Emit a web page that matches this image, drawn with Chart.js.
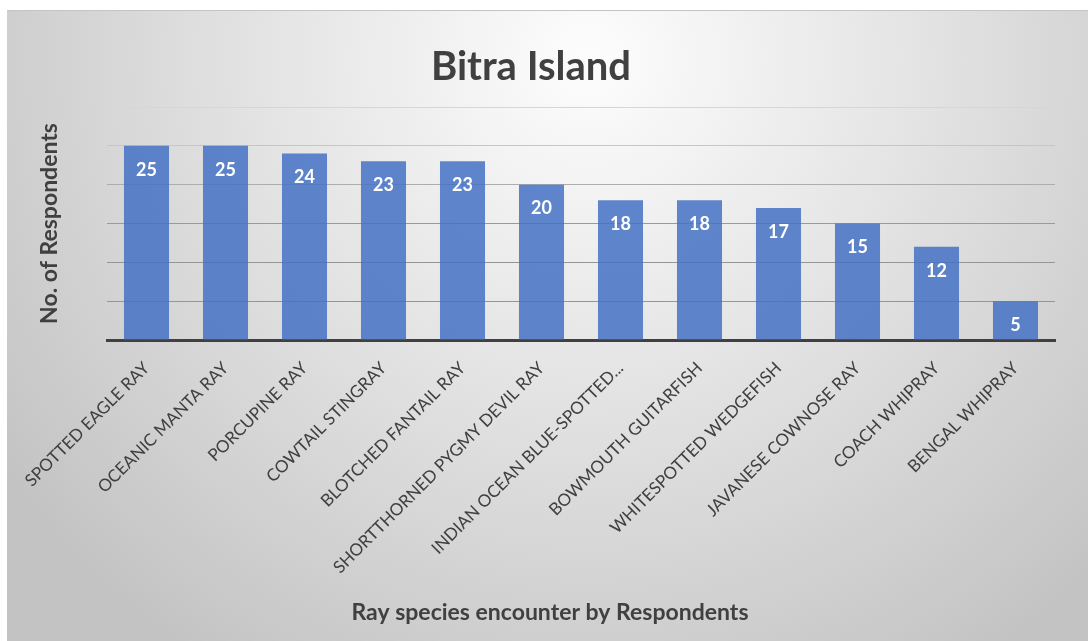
<!DOCTYPE html>
<html>
<head>
<meta charset="utf-8">
<title>Bitra Island</title>
<script src="https://cdn.jsdelivr.net/npm/chart.js@4/dist/chart.umd.min.js"></script>
<style>
  html, body { margin: 0; padding: 0; background: #fff; }
  #wrap { width: 1088px; height: 641px; }
</style>
</head>
<body>
<div id="wrap"><canvas id="chart"></canvas></div>
<script>
const species = [
  'SPOTTED EAGLE RAY',
  'OCEANIC MANTA RAY',
  'PORCUPINE RAY',
  'COWTAIL STINGRAY',
  'BLOTCHED FANTAIL RAY',
  'SHORTTHORNED PYGMY DEVIL RAY',
  'INDIAN OCEAN BLUE-SPOTTED...',
  'BOWMOUTH GUITARFISH',
  'WHITESPOTTED WEDGEFISH',
  'JAVANESE COWNOSE RAY',
  'COACH WHIPRAY',
  'BENGAL WHIPRAY'
];
const respondents = [25, 25, 24, 23, 23, 20, 18, 18, 17, 15, 12, 5];
const xCaption = 'Ray species encounter by Respondents';

const FONT = "Lato, 'Open Sans', sans-serif";

// grey panel with a soft light spot behind the title
const panelBg = {
  id: 'panelBg',
  beforeDraw(chart) {
    const { ctx, width, height } = chart;
    ctx.save();
    ctx.fillStyle = '#ffffff';
    ctx.fillRect(0, 0, width, height);
    const g = ctx.createRadialGradient(590, 60, 0, 590, 60, 720);
    g.addColorStop(0, '#fdfdfd');
    g.addColorStop(0.45, '#e4e4e4');
    g.addColorStop(1, '#c3c3c3');
    ctx.fillStyle = g;
    ctx.fillRect(7, 10, width - 7, height - 10);
    ctx.fillStyle = '#c4c4c4';
    ctx.fillRect(7, 10, width - 7, 1);
    ctx.restore();
  }
};

// white value labels inside the top of each bar, plus the x caption
const barValues = {
  id: 'barValues',
  afterDatasetsDraw(chart) {
    const { ctx } = chart;
    const meta = chart.getDatasetMeta(0);
    ctx.save();
    ctx.fillStyle = '#ffffff';
    ctx.font = 'bold 18px ' + FONT;
    ctx.textAlign = 'center';
    ctx.textBaseline = 'middle';
    meta.data.forEach((bar, i) => {
      ctx.fillText(String(chart.data.datasets[0].data[i]), bar.x, bar.y + 24);
    });
    ctx.fillStyle = '#404040';
    ctx.font = 'bold 23px ' + FONT;
    ctx.fillText(xCaption, 550, 613);
    ctx.restore();
  }
};

const gridShade = { 30: '#d6d6d6', 25: '#c6c6c6', 20: '#adadad', 15: '#9a9a9a', 10: '#959595', 5: '#959595' };

new Chart(document.getElementById('chart'), {
  type: 'bar',
  data: {
    labels: species,
    datasets: [{
      label: 'Respondents',
      data: respondents,
      backgroundColor: 'rgba(68, 114, 196, 0.85)',
      borderWidth: 0,
      barPercentage: 0.57,
      categoryPercentage: 1
    }]
  },
  options: {
    responsive: true,
    maintainAspectRatio: false,
    animation: false,
    layout: { padding: { left: 7, top: 10, right: 33, bottom: 0 } },
    scales: {
      x: {
        grid: { display: false },
        border: { display: true, color: '#404040', width: 3 },
        ticks: {
          color: '#404040',
          font: { family: FONT, size: 17 },
          minRotation: 45,
          maxRotation: 45,
          autoSkip: false,
          padding: 10
        },
        afterFit(scale) { scale.height = 301; }
      },
      y: {
        min: 0,
        max: 30,
        ticks: { display: false, stepSize: 5 },
        border: { display: false },
        grid: {
          drawTicks: false,
          color: (c) => gridShade[c.tick.value] || 'rgba(0,0,0,0)',
          lineWidth: 1
        },
        title: {
          display: true,
          text: 'No. of Respondents',
          color: '#404040',
          font: { family: FONT, size: 23, weight: 'bold' },
          padding: { top: 29, bottom: 0 }
        },
        afterFit(scale) { scale.width = 100; }
      }
    },
    plugins: {
      legend: { display: false },
      tooltip: { enabled: false },
      title: {
        display: true,
        text: 'Bitra Island',
        color: '#404040',
        font: { family: FONT, size: 40, weight: 'bold' },
        padding: { top: 33, bottom: 16 }
      }
    }
  },
  plugins: [panelBg, barValues]
});
</script>
</body>
</html>
